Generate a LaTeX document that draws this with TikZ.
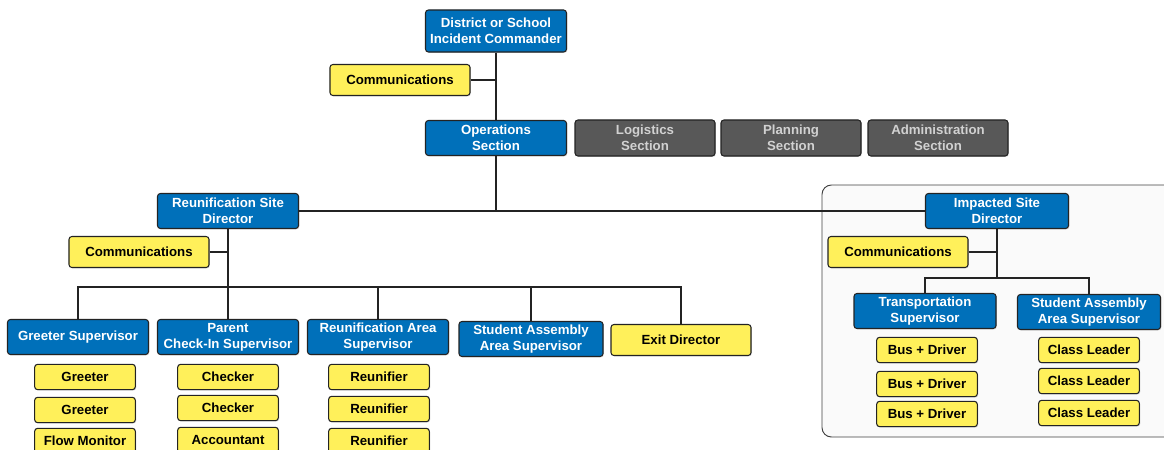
\documentclass[tikz,border=0pt]{standalone}
\usepackage{fontspec}
\setmainfont{Liberation Sans}
\usetikzlibrary{positioning,shadows}
\definecolor{icsblue}{RGB}{0,112,186}
\definecolor{icsyellow}{RGB}{255,240,90}
\definecolor{icsgray}{RGB}{88,88,88}
\definecolor{icsline}{RGB}{35,35,35}

\begin{document}
\begin{tikzpicture}[x=0.03cm,y=-0.03cm,
	box/.style={draw=icsline,rounded corners=2.5pt,line width=0.9pt,align=center,inner sep=0pt,
		font=\fontsize{11.3}{13.4}\selectfont\bfseries,drop shadow={shadow xshift=0.8pt,shadow yshift=-0.8pt,opacity=0.25}},
	bluebox/.style={box,fill=icsblue,text=white,minimum width=4.23cm,minimum height=1.05cm},
	graybox/.style={box,fill=icsgray,text=black!18,minimum width=4.2cm,minimum height=1.08cm},
	combox/.style={box,fill=icsyellow,text=black,minimum width=4.2cm,minimum height=0.93cm},
	staffbox/.style={box,fill=icsyellow,text=black,minimum width=3.02cm,minimum height=0.76cm},
	conn/.style={draw=icsline,line width=0.9pt}]
	\useasboundingbox (0,0) rectangle (1164,450);
	% command and sections
	\node[bluebox,minimum height=1.26cm] (cmd) at (496,31) {District or School\\Incident Commander};
	\node[combox] (com1) at (400,80) {Communications};
	\node[bluebox] (ops) at (496,138) {Operations\\Section};
	\node[graybox] (log) at (645,138) {Logistics\\Section};
	\node[graybox] (plan) at (791,138) {Planning\\Section};
	\node[graybox] (adm) at (938,138) {Administration\\Section};
	\draw[conn] (cmd.south) -- (ops.north);
	\draw[conn] (com1.east) -- (com1.east -| cmd.south);
	% impacted site area
	\draw[rounded corners=8pt,fill=black!2,draw=black!75,line width=0.8pt] (822,185) rectangle (1180,437);
	% reunification site
	\node[bluebox] (rsd) at (228,211) {Reunification Site\\Director};
	\node[combox] (com2) at (139,252) {Communications};
	\node[bluebox] (gsup) at (78,337) {Greeter Supervisor};
	\node[bluebox] (psup) at (228,337) {Parent\\Check-In Supervisor};
	\node[bluebox] (rsup) at (378,337) {Reunification Area\\Supervisor};
	\node[bluebox,minimum width=4.32cm] (ssup) at (531,339) {Student Assembly\\Area Supervisor};
	\node[combox] (exit) at (681,340) {Exit Director};
	\node[staffbox] (g1) at (85,377) {Greeter};
	\node[staffbox] (g2) at (85,410) {Greeter};
	\node[staffbox] (g3) at (85,441) {Flow Monitor};
	\node[staffbox] (c1) at (228,377) {Checker};
	\node[staffbox] (c2) at (228,408) {Checker};
	\node[staffbox] (c3) at (228,440) {Accountant};
	\node[staffbox] (r1) at (379,377) {Reunifier};
	\node[staffbox] (r2) at (379,409) {Reunifier};
	\node[staffbox] (r3) at (379,441) {Reunifier};
	\coordinate (rbar) at (228,287);
	\draw[conn] (ops.south) -- (ops.south |- rsd.east);
	\draw[conn] (rsd.south) -- (psup.north);
	\draw[conn] (com2.east) -- (com2.east -| rsd.south);
	\draw[conn] (gsup.north) |- (rbar) -| (exit.north);
	\draw[conn] (rsup.north) -- (rsup.north |- rbar);
	\draw[conn] (ssup.north) -- (ssup.north |- rbar);
	% impacted site
	\node[bluebox,minimum width=4.29cm] (isd) at (997,211) {Impacted Site\\Director};
	\node[combox] (com3) at (898,252) {Communications};
	\node[bluebox,minimum width=4.26cm] (tsup) at (925,311) {Transportation\\Supervisor};
	\node[bluebox,minimum width=4.29cm] (isup) at (1089,312) {Student Assembly\\Area Supervisor};
	\node[staffbox] (b1) at (927,350) {Bus + Driver};
	\node[staffbox] (b2) at (927,384) {Bus + Driver};
	\node[staffbox] (b3) at (927,414) {Bus + Driver};
	\node[staffbox] (l1) at (1089,350) {Class Leader};
	\node[staffbox] (l2) at (1089,381) {Class Leader};
	\node[staffbox] (l3) at (1089,413) {Class Leader};
	\coordinate (ibar) at (997,278);
	\draw[conn] (rsd.east) -- (isd.west);
	\draw[conn] (isd.south) -- (ibar);
	\draw[conn] (com3.east) -- (com3.east -| ibar);
	\draw[conn] (tsup.north) |- (ibar) -| (isup.north);
\end{tikzpicture}
\end{document}
